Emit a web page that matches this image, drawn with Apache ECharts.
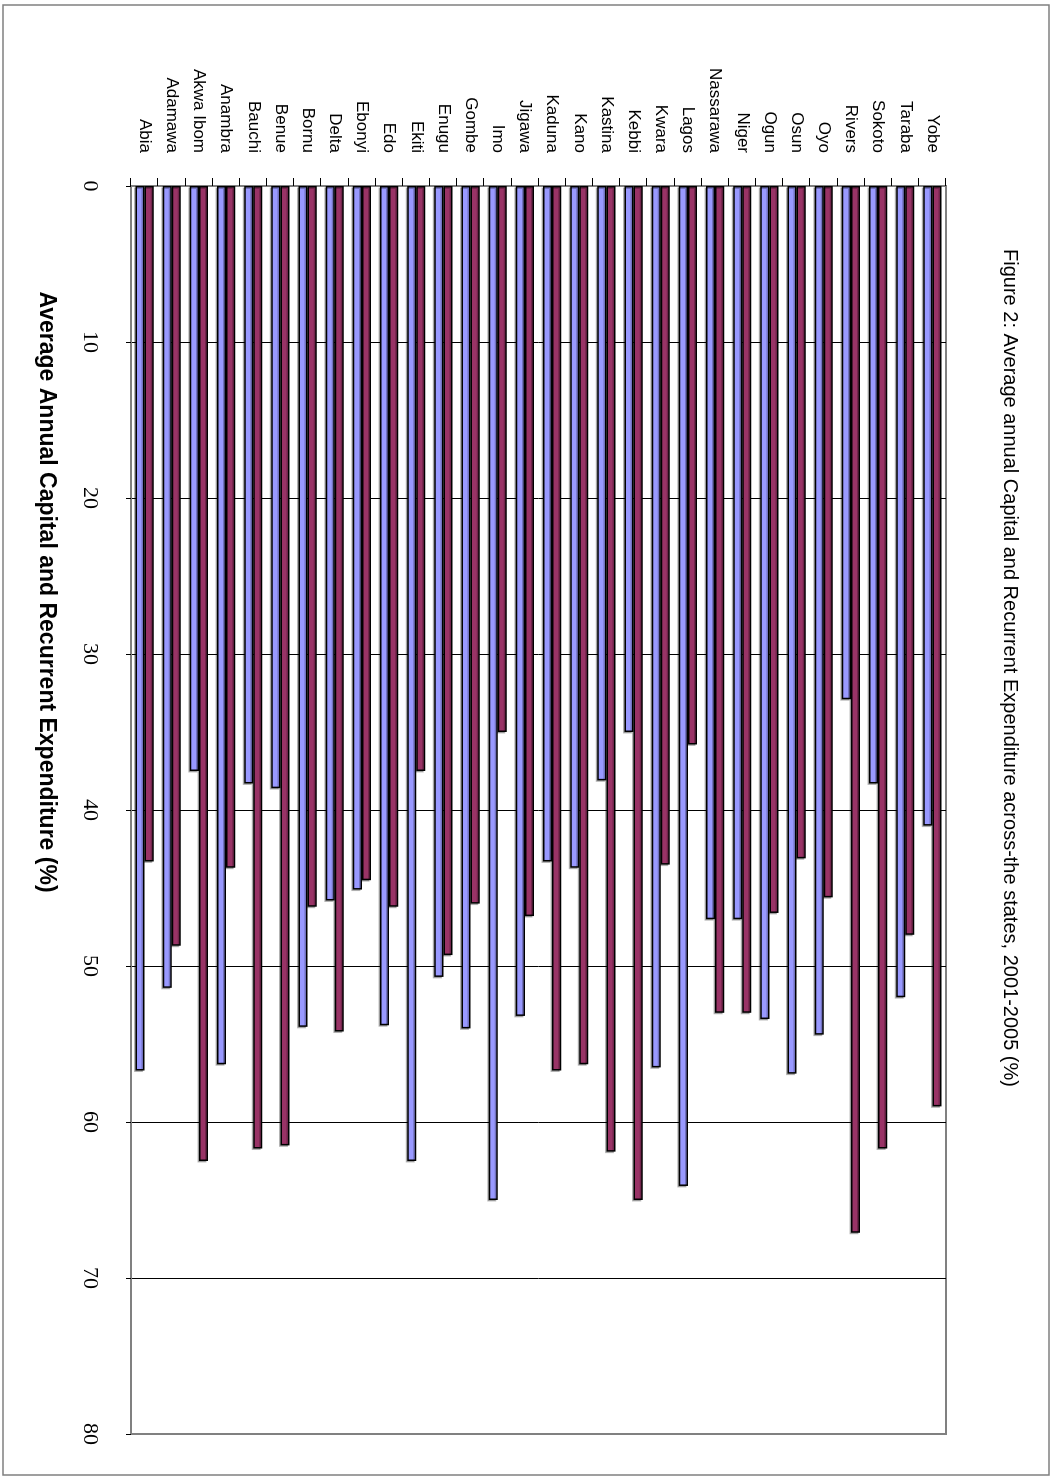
<!DOCTYPE html>
<html>
<head>
<meta charset="utf-8">
<script src="https://cdn.jsdelivr.net/npm/echarts@6/dist/echarts.min.js"></script>
<style>
  html, body { margin: 0; padding: 0; background: #fff; width: 1051px; height: 1478px; overflow: hidden; }
  /* the bar chart is laid out landscape and turned a quarter turn clockwise onto the portrait page */
  #chart { position: absolute; left: 0; top: 0; width: 1478px; height: 1051px;
           transform-origin: 0 0; transform: translateX(1051px) rotate(90deg); }
</style>
</head>
<body>
<div id="chart"></div>
<script>
// States, listed from the first category outward
const states = ['Abia', 'Adamawa', 'Akwa Ibom', 'Anambra', 'Bauchi', 'Benue', 'Bornu', 'Delta',
  'Ebonyi', 'Edo', 'Ekiti', 'Enugu', 'Gombe', 'Imo', 'Jigawa', 'Kaduna', 'Kano', 'Kastina',
  'Kebbi', 'Kwara', 'Lagos', 'Nassarawa', 'Niger', 'Ogun', 'Osun', 'Oyo', 'Rivers', 'Sokoto',
  'Taraba', 'Yobe'];

// Average annual share of expenditure, 2001-2005 (%)
const capitalShare = [56.7, 51.4, 37.5, 56.3, 38.3, 38.6, 53.9, 45.8, 45.1, 53.8,
  62.5, 50.7, 54.0, 65.0, 53.2, 43.3, 43.7, 38.1, 35.0, 56.5,
  64.1, 47.0, 47.0, 53.4, 56.9, 54.4, 32.9, 38.3, 52.0, 41.0];
const recurrentShare = [43.3, 48.7, 62.5, 43.7, 61.7, 61.5, 46.2, 54.2, 44.5, 46.2,
  37.5, 49.3, 46.0, 35.0, 46.8, 56.7, 56.3, 61.9, 65.0, 43.5,
  35.8, 53.0, 53.0, 46.6, 43.1, 45.6, 67.1, 61.7, 48.0, 59.0];

// Value axis range
const valueMin = 0;
const valueMax = 80;
const valueStep = 10;

const chartTitle = 'Figure 2: Average annual Capital and Recurrent Expenditure across-the states, 2001-2005 (%)';
const valueAxisTitle = 'Average Annual Capital and Recurrent Expenditure (%)';

const chart = echarts.init(document.getElementById('chart'), null, { renderer: 'canvas' });

const barStyle = (fill) => ({
  color: fill,
  borderColor: '#000000',
  borderWidth: 1.5,
  shadowColor: 'rgba(0, 0, 0, 0.25)',
  shadowBlur: 0,
  shadowOffsetX: 1.5,
  shadowOffsetY: 1.5
});

chart.setOption({
  animation: false,
  backgroundColor: '#ffffff',
  textStyle: { fontFamily: '"Liberation Sans", Arial, sans-serif', color: '#000' },
  title: [
    {
      text: chartTitle,
      left: 668, top: 31, textAlign: 'center', padding: 0,
      textStyle: { fontSize: 20, fontWeight: 'normal', color: '#000',
                   fontFamily: '"Liberation Sans", Arial, sans-serif' }
    },
    {
      text: valueAxisTitle,
      left: 592, top: 993, textAlign: 'center', padding: 0,
      textStyle: { fontSize: 23, fontWeight: 'bold', color: '#000',
                   fontFamily: '"Liberation Sans", Arial, sans-serif' }
    }
  ],
  graphic: [
    {
      type: 'rect', silent: true, z: -1,
      shape: { x: 5, y: 2, width: 1470, height: 1046 },
      style: { fill: 'none', stroke: '#808080', lineWidth: 1.5 }
    }
  ],
  grid: {
    left: 186, right: 44, top: 105, bottom: 131,
    show: true, borderColor: '#808080', borderWidth: 2, backgroundColor: '#ffffff'
  },
  xAxis: {
    type: 'value',
    min: valueMin, max: valueMax, interval: valueStep,
    position: 'bottom',
    axisLine: { show: true, lineStyle: { color: '#808080', width: 2 } },
    axisTick: { show: true, length: 5, lineStyle: { color: '#000', width: 1 } },
    axisLabel: { margin: 30, fontSize: 22, color: '#000',
                 fontFamily: '"Liberation Serif", "Times New Roman", serif' },
    splitLine: { show: true, showMinLine: false, showMaxLine: false,
                 lineStyle: { color: '#000', width: 1 } }
  },
  yAxis: {
    type: 'category',
    data: states,
    axisLine: { show: true, lineStyle: { color: '#808080', width: 2 } },
    axisTick: { show: true, length: 8, alignWithLabel: false, lineStyle: { color: '#000', width: 1 } },
    axisLabel: { margin: 33, fontSize: 17, color: '#000', interval: 0,
                 fontFamily: '"Liberation Sans", Arial, sans-serif' },
    splitLine: { show: false }
  },
  // recurrent is listed first so that it sits on the upper side of each pair
  series: [
    {
      name: 'Recurrent', type: 'bar', data: recurrentShare,
      barGap: '0%', barCategoryGap: '33%',
      itemStyle: barStyle('#993366')
    },
    {
      name: 'Capital', type: 'bar', data: capitalShare,
      barGap: '0%', barCategoryGap: '33%',
      itemStyle: barStyle('#9999FF')
    }
  ]
});
</script>
</body>
</html>
